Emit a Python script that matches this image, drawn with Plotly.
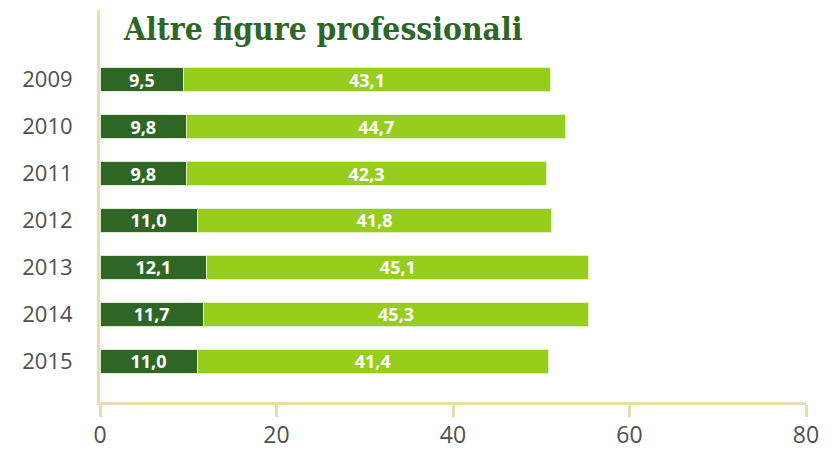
import plotly.graph_objects as go

years = ["2009", "2010", "2011", "2012", "2013", "2014", "2015"]
dark_values = [9.5, 9.8, 9.8, 11.0, 12.1, 11.7, 11.0]
light_labels = ["43,1", "44,7", "42,3", "41,8", "45,1", "45,3", "41,4"]
# drawn lengths of the light segments
light_values = [41.5, 43.0, 40.8, 40.2, 43.3, 43.7, 39.8]
dark_labels = ["9,5", "9,8", "9,8", "11,0", "12,1", "11,7", "11,0"]
x_ticks = [0, 20, 40, 60, 80]

DARK = "#2f6626"
LIGHT = "#97ce1e"
AXIS = "#e5dfb0"
LABEL_FONT = "Open Sans"

fig = go.Figure()
for vals, labels, color, edge in [
    (dark_values, dark_labels, DARK, "#dfeecf"),
    (light_values, light_labels, LIGHT, "#e3f2c0"),
]:
    fig.add_trace(go.Bar(
        y=years, x=vals, orientation="h",
        marker=dict(color=color, line=dict(color=edge, width=1)),
        text=labels, textposition="inside", insidetextanchor="middle",
        constraintext="none",
        textfont=dict(color="white", size=18, family=LABEL_FONT, weight="bold"),
        hoverinfo="skip",
    ))

# page body has an 8px margin, so the figure is offset by (8, 8)
fig.update_layout(
    barmode="stack",
    bargap=0.49,
    showlegend=False,
    width=830, height=441,
    margin=dict(l=92, r=32, t=2, b=47, autoexpand=False),
    paper_bgcolor="white",
    plot_bgcolor="white",
)
fig.add_annotation(
    text="<b>Altre figure professionali</b>",
    xref="paper", yref="paper", x=(121 - 100) / 706, y=1 - (28 - 10) / 392,
    xanchor="left", yanchor="middle", showarrow=False,
    font=dict(family="DejaVu Serif Condensed, DejaVu Serif", size=31.5, color="#2f6626"),
)

fig.update_xaxes(
    range=[0, 80], tickvals=x_ticks, ticktext=[str(v) for v in x_ticks],
    showgrid=False, zeroline=False, automargin=False,
    showline=True, linecolor=AXIS, linewidth=3,
    ticks="outside", ticklen=12, tickwidth=3, tickcolor=AXIS,
    tickfont=dict(size=23, color="#505050", family="Open Sans"),
    ticklabelstandoff=-2,
)
fig.update_yaxes(
    type="category", categoryorder="array", categoryarray=years,
    range=[6.862, -1.479],
    showgrid=False, zeroline=False, automargin=False,
    showline=True, linecolor=AXIS, linewidth=3,
    ticks="", ticklabelstandoff=20,
    tickfont=dict(size=22, color="#505050", family="Open Sans"),
)

fig.write_html("out.html")
